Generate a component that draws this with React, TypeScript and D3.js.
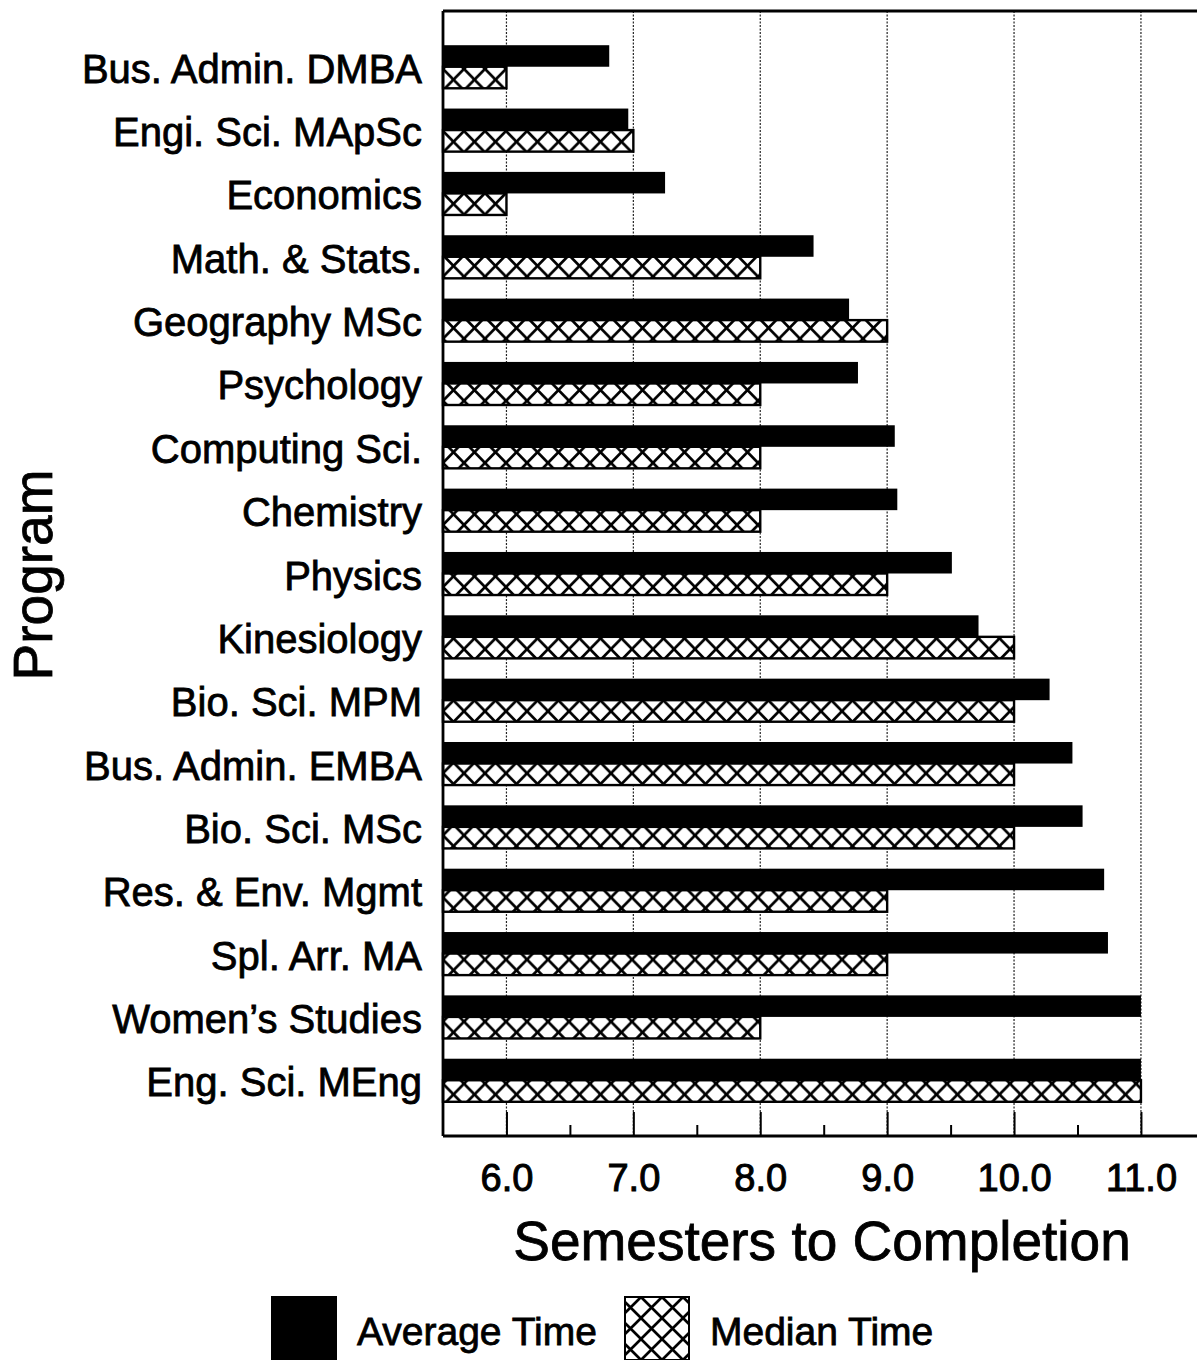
import { useEffect, useRef } from "react";
import * as d3 from "d3";

const programs = [
  "Bus. Admin. DMBA",
  "Engi. Sci. MApSc",
  "Economics",
  "Math. & Stats.",
  "Geography MSc",
  "Psychology",
  "Computing Sci.",
  "Chemistry",
  "Physics",
  "Kinesiology",
  "Bio. Sci. MPM",
  "Bus. Admin. EMBA",
  "Bio. Sci. MSc",
  "Res. & Env. Mgmt",
  "Spl. Arr. MA",
  "Women\u2019s Studies",
  "Eng. Sci. MEng",
];

const averageTime = [6.81, 6.96, 7.25, 8.42, 8.7, 8.77, 9.06, 9.08, 9.51, 9.72, 10.28, 10.46, 10.54, 10.71, 10.74, 11.0, 11.0];
const medianTime = [6.0, 7.0, 6.0, 8.0, 9.0, 8.0, 8.0, 8.0, 9.0, 10.0, 10.0, 10.0, 10.0, 9.0, 9.0, 8.0, 11.0];

const majorTicks = [6, 7, 8, 9, 10, 11];
const minorTicks = [6.5, 7.5, 8.5, 9.5, 10.5];

const legendLabels = ["Average Time", "Median Time"];

const FONT = "'Liberation Sans', Arial, Helvetica, sans-serif";

export default function App() {
  const svgRef = useRef<SVGSVGElement | null>(null);

  useEffect(() => {
    if (!svgRef.current) return;
    const width = 1197;
    const height = 1360;
    const left = 443;
    const top = 11;
    const bottom = 1136;
    const hatchW = 21;

    const svg = d3.select(svgRef.current);
    svg.selectAll("*").remove();
    svg.attr("width", width).attr("height", height);
    svg.append("rect").attr("width", width).attr("height", height).attr("fill", "#fff");

    const x = d3.scaleLinear().domain([5.5, 11.5]).range([left, left + 6 * 126.9]);
    const y = d3.scaleBand<string>()
      .domain(programs)
      .range([top, bottom])
      .paddingInner(0.32)
      .paddingOuter(0.54);
    const sub = d3.scaleBand<string>().domain(["avg", "med"]).range([0, y.bandwidth()]);

    const defs = svg.append("defs");
    const addHatch = (id: string, px: number, py: number, h: number) => {
      const p = defs.append("pattern")
        .attr("id", id)
        .attr("patternUnits", "userSpaceOnUse")
        .attr("x", px)
        .attr("y", py)
        .attr("width", hatchW)
        .attr("height", h);
      p.append("rect").attr("width", hatchW).attr("height", h).attr("fill", "#fff");
      p.append("path")
        .attr("d", `M0,0L${hatchW},${h}M${hatchW},0L0,${h}`)
        .attr("stroke", "#000")
        .attr("stroke-width", 2.7)
        .attr("fill", "none");
    };

    // gridlines
    svg.append("g")
      .selectAll("line")
      .data(majorTicks)
      .join("line")
      .attr("x1", (d) => x(d))
      .attr("x2", (d) => x(d))
      .attr("y1", top)
      .attr("y2", bottom)
      .attr("stroke", "#222")
      .attr("stroke-width", 1.2)
      .attr("stroke-dasharray", "2,1.5");

    // bars
    const rows = svg.append("g")
      .selectAll("g")
      .data(programs)
      .join("g")
      .attr("transform", (d) => `translate(0,${y(d)})`);

    rows.append("rect")
      .attr("x", x(5.5))
      .attr("y", sub("avg")!)
      .attr("width", (_, i) => x(averageTime[i]) - x(5.5))
      .attr("height", sub.bandwidth())
      .attr("fill", "#000");

    programs.forEach((p, i) => {
      addHatch(`hatch-${i}`, x(5.5), (y(p) ?? 0) + sub("med")!, sub.bandwidth());
    });

    rows.append("rect")
      .attr("x", x(5.5))
      .attr("y", sub("med")!)
      .attr("width", (_, i) => x(medianTime[i]) - x(5.5))
      .attr("height", sub.bandwidth())
      .attr("fill", (_, i) => `url(#hatch-${i})`)
      .attr("stroke", "#000")
      .attr("stroke-width", 2.4);

    // frame
    const frame = svg.append("g").attr("stroke", "#000").attr("stroke-width", 2.8);
    frame.append("line").attr("x1", left).attr("x2", width).attr("y1", top).attr("y2", top);
    frame.append("line").attr("x1", left).attr("x2", width).attr("y1", bottom).attr("y2", bottom);
    frame.append("line").attr("x1", left).attr("x2", left).attr("y1", top).attr("y2", bottom);

    // x axis
    const xAxis = svg.append("g")
      .attr("transform", `translate(0,${bottom})`)
      .call(d3.axisBottom(x).tickValues(majorTicks).tickSize(-24).tickPadding(28).tickFormat(d3.format(".1f")));
    xAxis.select(".domain").remove();
    xAxis.selectAll("line").attr("stroke-width", 2);
    xAxis.selectAll("text")
      .attr("font-family", FONT)
      .attr("font-size", 38)
      .attr("fill", "#000")
      .attr("stroke", "#000")
      .attr("stroke-width", 1);

    const xMinor = svg.append("g")
      .attr("transform", `translate(0,${bottom})`)
      .call(d3.axisBottom(x).tickValues(minorTicks).tickSize(-11).tickFormat(() => ""));
    xMinor.select(".domain").remove();
    xMinor.selectAll("line").attr("stroke-width", 2);

    // y axis
    const yAxis = svg.append("g")
      .attr("transform", `translate(${left},0)`)
      .call(d3.axisLeft(y).tickSize(0).tickPadding(21));
    yAxis.select(".domain").remove();
    yAxis.selectAll("text")
      .attr("font-family", FONT)
      .attr("font-size", 40)
      .attr("dy", "0.4em")
      .attr("fill", "#000")
      .attr("stroke", "#000")
      .attr("stroke-width", 0.8);

    // axis titles
    svg.append("text")
      .attr("x", 822)
      .attr("y", 1260)
      .attr("text-anchor", "middle")
      .attr("font-family", FONT)
      .attr("font-size", 55)
      .attr("stroke", "#000")
      .attr("stroke-width", 0.8)
      .text("Semesters to Completion");

    svg.append("text")
      .attr("transform", `translate(52,${575}) rotate(-90)`)
      .attr("text-anchor", "middle")
      .attr("font-family", FONT)
      .attr("font-size", 55)
      .attr("stroke", "#000")
      .attr("stroke-width", 0.8)
      .text("Program");

    // legend
    const legendX = [272, 625];
    const boxW = 64;
    const boxTop = 1297;
    const boxH = 63;
    addHatch("hatch-legend", legendX[1], boxTop, 21);
    const legend = svg.append("g")
      .selectAll("g")
      .data(legendLabels)
      .join("g")
      .attr("transform", (_, i) => `translate(${legendX[i]},0)`);
    legend.append("rect")
      .attr("x", 0)
      .attr("y", boxTop)
      .attr("width", boxW)
      .attr("height", boxH)
      .attr("fill", (_, i) => (i === 0 ? "#000" : "url(#hatch-legend)"))
      .attr("stroke", "#000")
      .attr("stroke-width", 2);
    legend.append("text")
      .attr("x", boxW + 21)
      .attr("y", 1345)
      .attr("font-family", FONT)
      .attr("font-size", 39)
      .attr("stroke", "#000")
      .attr("stroke-width", 0.8)
      .text((d) => d);
  }, []);

  return <svg ref={svgRef} width={1197} height={1360} style={{ position: "absolute", left: 0, top: 0 }} />;
}
